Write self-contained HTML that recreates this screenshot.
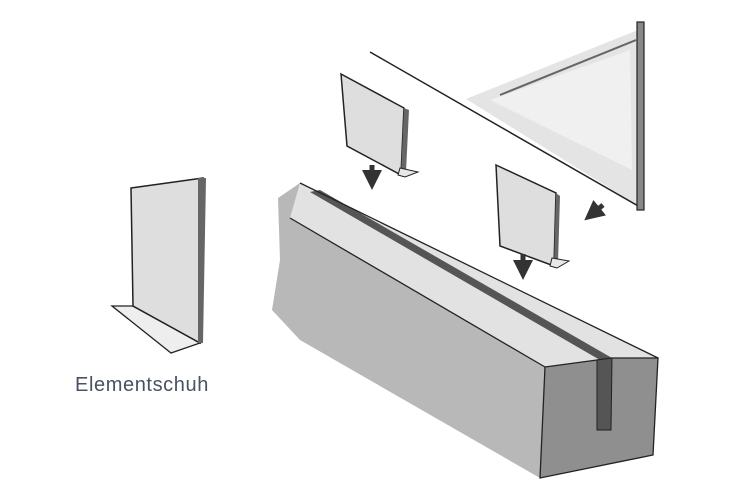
<!DOCTYPE html>
<html><head><style>
html,body{margin:0;padding:0;background:#fff;width:750px;height:500px;overflow:hidden}
</style></head><body>
<svg width="750" height="500" viewBox="0 0 750 500" xmlns="http://www.w3.org/2000/svg">
<defs>
<marker id="ah" markerWidth="4" markerHeight="4" refX="2" refY="2" orient="auto" markerUnits="strokeWidth">
<path d="M0,0 L4,2 L0,4 Z" fill="#333"/></marker>
</defs>
<!-- glass -->
<polygon points="466,99 638,30 640,207" fill="#e4e4e4"/>
<polygon points="490,100 630,50 632,170" fill="#f0f0f0"/>
<line x1="370" y1="52" x2="640" y2="207" stroke="#222" stroke-width="1.5"/>
<line x1="500" y1="95" x2="636" y2="40" stroke="#666" stroke-width="2"/>
<rect x="637" y="22" width="7" height="188" fill="#888" stroke="#222" stroke-width="1.2"/>
<!-- panel 1 -->
<polygon points="341,74 404,108 401,175 347,146" fill="#dedede" stroke="#222" stroke-width="1.5"/>
<polygon points="404,108 409,110 406,172 401,175" fill="#666"/>
<polygon points="400,168 418,172 405,177 398,175" fill="#e8e8e8" stroke="#222"/>
<!-- panel 2 -->
<polygon points="496,165 556,193 554,266 500,246" fill="#dedede" stroke="#222" stroke-width="1.5"/>
<polygon points="556,193 560,196 558,263 554,266" fill="#666"/>
<polygon points="552,258 569,261 557,268 550,266" fill="#e8e8e8" stroke="#222"/>
<!-- arrows -->
<line x1="372" y1="165" x2="372" y2="180" stroke="#333" stroke-width="5" marker-end="url(#ah)"/>
<line x1="523" y1="254" x2="523" y2="270" stroke="#333" stroke-width="5" marker-end="url(#ah)"/>
<line x1="603" y1="205" x2="592" y2="214" stroke="#333" stroke-width="5" marker-end="url(#ah)"/>
<!-- block -->
<polygon points="278,198 300,183 545,367 540,478 300,340 272,310 280,260" fill="#b8b8b8"/>
<polygon points="300,183 658,358 545,367 290,218" fill="#e2e2e2"/>
<polygon points="310,192 320,190 612,358 600,360" fill="#555"/>
<line x1="300" y1="183" x2="658" y2="358" stroke="#222" stroke-width="1.3"/>
<line x1="290" y1="218" x2="545" y2="367" stroke="#222" stroke-width="1.3"/>
<polygon points="545,367 597,360 612,358 658,358 653,455 540,478" fill="#8f8f8f" stroke="#222" stroke-width="1.3"/>
<polygon points="597,360 612,358 611,430 597,430" fill="#555" stroke="#222"/>
<!-- shoe -->
<polygon points="112,306 133,306 200,343 171,353" fill="#eee" stroke="#222" stroke-width="1.3"/>
<polygon points="131,188 203,178 200,343 133,306" fill="#dedede" stroke="#222" stroke-width="1.5"/>
<polygon points="198,178 206,178 203,343 198,343" fill="#666"/>
<text x="75" y="391" font-family="Liberation Sans, sans-serif" font-size="20" letter-spacing="0.6" fill="#4a5262">Elementschuh</text>
</svg>
</body></html>
